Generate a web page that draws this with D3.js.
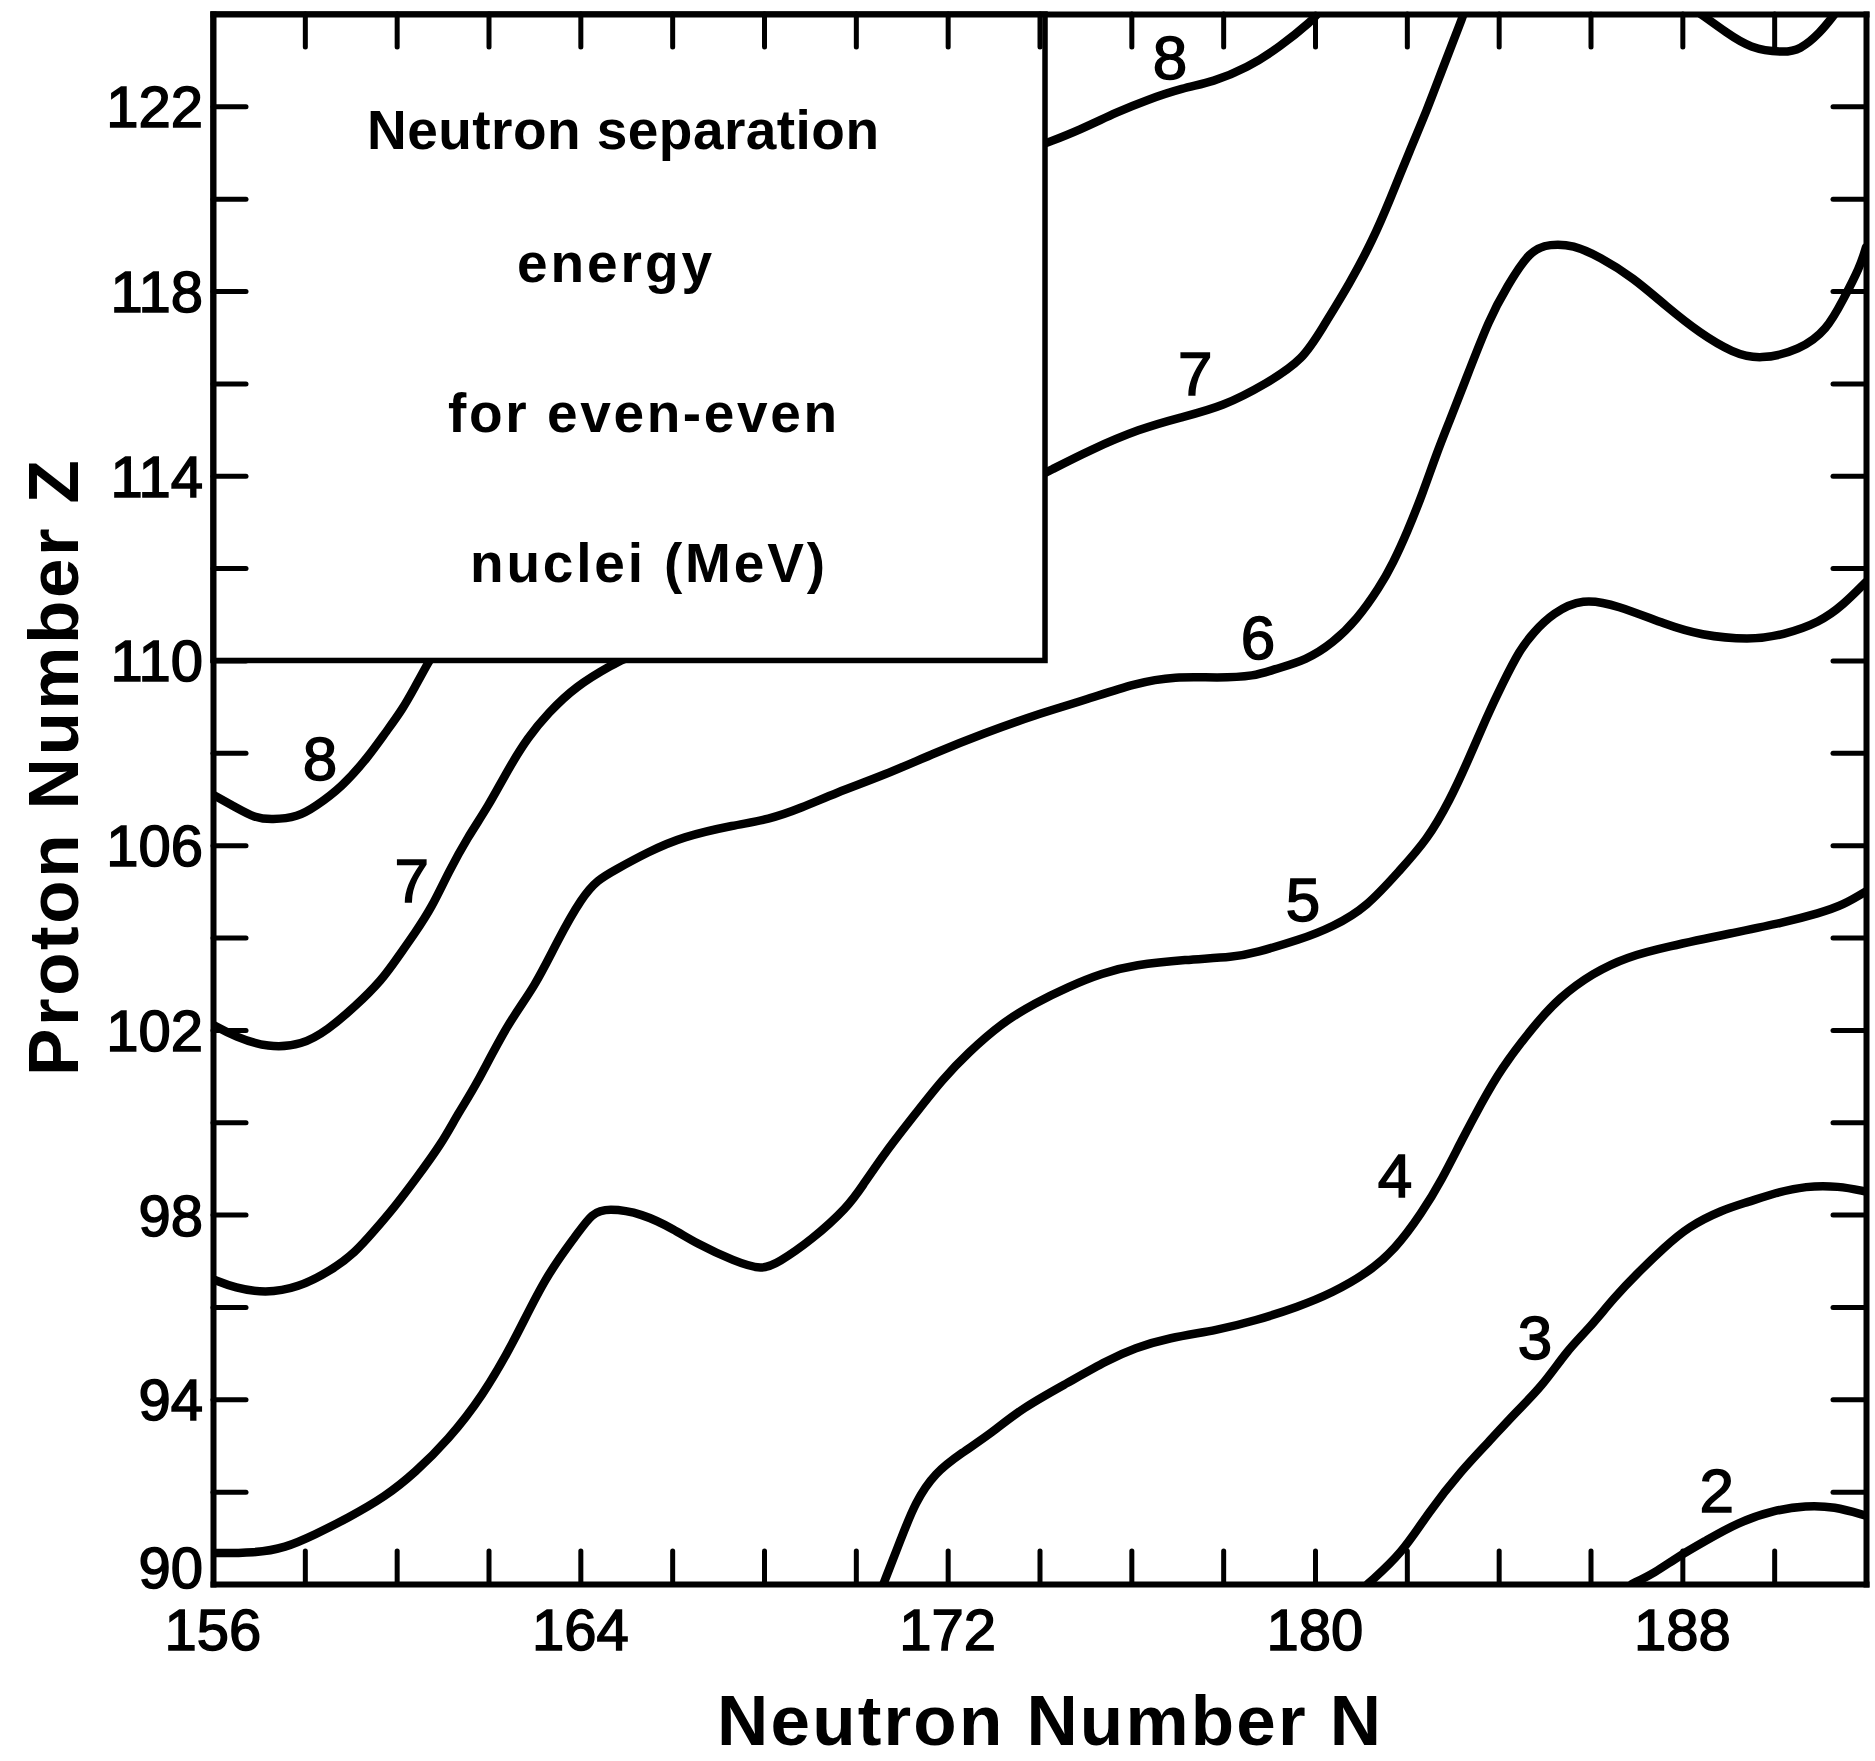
<!DOCTYPE html>
<html><head><meta charset="utf-8">
<script src="https://cdn.jsdelivr.net/npm/d3@7"></script>
<style>body{margin:0;background:#fff}</style>
</head><body>
<svg id="chart" width="1875" height="1761"></svg>
<script>
// ---- data ----
const xDomain = [156, 192];
const yDomain = [90, 124];
const xTickValues = d3.range(158, 192, 2);
const yTickValues = d3.range(92, 124, 2);
const xLabelValues = [156, 164, 172, 180, 188];
const yLabelValues = [90, 94, 98, 102, 106, 110, 114, 118, 122];

const contour2 = [[186.9,90],[187.4,90.24],[187.9,90.59],[188.5,90.93],[189.2,91.33],[190.0,91.6],[190.7,91.7],[191.3,91.68],[192,91.48]];
const contour3 = [[181.15,90],[181.9,90.67],[182.46,91.54],[183.2,92.47],[183.77,93.06],[184.35,93.7],[184.94,94.27],[185.5,95.07],[185.94,95.5],[186.53,96.22],[187.03,96.74],[187.62,97.3],[188.12,97.73],[188.86,98.1],[189.43,98.27],[190.02,98.47],[190.69,98.62],[191.4,98.62],[192,98.5]];
const contour4 = [[170.6,90],[171.0,91.02],[171.29,91.76],[171.72,92.41],[172.31,92.84],[172.96,93.27],[173.62,93.81],[174.62,94.36],[175.49,94.85],[176.08,95.11],[176.8,95.33],[177.89,95.5],[178.69,95.7],[179.63,96.0],[180.37,96.3],[181.15,96.74],[181.74,97.24],[182.33,98.04],[182.76,98.75],[183.2,99.62],[183.63,100.42],[184.03,101.13],[184.75,102.07],[185.33,102.71],[186.05,103.23],[186.79,103.58],[187.66,103.8],[189.1,104.1],[190.19,104.32],[190.99,104.53],[191.5,104.7],[192,105.0]];
const contour5 = [[156,90.67],[156.91,90.67],[157.57,90.78],[158.22,91.07],[158.94,91.43],[159.75,91.89],[160.4,92.41],[161.12,93.12],[161.86,94.05],[162.58,95.29],[163.23,96.65],[163.95,97.6],[164.25,98.03],[164.6,98.14],[165.34,98.03],[166.06,97.67],[166.5,97.39],[167.37,96.98],[167.96,96.8],[168.3,96.95],[169.04,97.45],[169.83,98.17],[170.13,98.6],[170.63,99.34],[171.35,100.25],[171.88,100.92],[172.44,101.5],[173.18,102.15],[173.9,102.58],[174.62,102.93],[175.36,103.23],[176.08,103.41],[177.17,103.52],[178.26,103.58],[178.69,103.67],[179.67,103.95],[180.39,104.23],[181.13,104.66],[181.85,105.46],[182.44,106.11],[182.94,106.98],[183.31,107.78],[183.74,108.78],[184.09,109.51],[184.46,110.23],[184.75,110.6],[185.18,111.03],[185.83,111.35],[186.57,111.2],[187.66,110.77],[188.38,110.55],[189.47,110.44],[190.19,110.55],[191.0,110.83],[191.5,111.2],[192,111.7]];
const contour6 = [[156,96.6],[156.48,96.41],[157.13,96.3],[157.85,96.41],[158.59,96.8],[159.09,97.17],[159.53,97.67],[159.96,98.17],[160.4,98.75],[160.99,99.55],[161.34,100.2],[161.71,100.76],[162.42,102.15],[163.01,102.93],[163.51,103.95],[164.04,104.88],[164.38,105.25],[164.75,105.46],[165.47,105.85],[166.21,106.18],[167.37,106.44],[168.09,106.55],[168.83,106.81],[169.55,107.13],[170.63,107.52],[171.72,108.0],[172.81,108.43],[173.9,108.82],[174.99,109.14],[176.08,109.51],[176.95,109.66],[177.89,109.62],[178.69,109.66],[179.08,109.8],[179.82,110.01],[180.39,110.38],[180.91,110.88],[181.41,111.59],[181.7,112.11],[182.0,112.76],[182.35,113.63],[182.65,114.49],[182.94,115.21],[183.22,115.92],[183.81,117.44],[184.18,118.09],[184.68,118.89],[185.12,119.02],[185.62,119.0],[186.2,118.74],[186.92,118.3],[187.66,117.66],[188.38,117.09],[189.1,116.66],[189.69,116.51],[190.56,116.72],[191.15,117.16],[191.5,117.81],[191.87,118.52],[192.0,118.95]];
const contour7Left = [[156,102.11],[156.48,101.85],[157.2,101.61],[157.94,101.67],[158.5,102.0],[159.09,102.5],[159.68,103.08],[160.03,103.58],[160.4,104.1],[160.77,104.66],[161.12,105.4],[161.55,106.18],[161.99,106.83],[162.42,107.63],[162.86,108.34],[163.3,108.86],[163.88,109.43],[164.75,109.94],[165.0,110.05]];
const contour7Upper = [[174.0,114.0],[174.16,114.08],[175.1,114.56],[176.19,115.02],[177.06,115.26],[178.0,115.5],[178.95,116.0],[179.74,116.51],[180.17,117.22],[180.76,118.17],[181.26,119.11],[181.63,119.97],[182.07,121.06],[182.44,121.92],[182.79,122.85],[183.22,123.94],[183.25,124.05]];
const contour8Left = [[156,107.09],[156.48,106.83],[156.91,106.59],[157.28,106.55],[157.85,106.61],[158.22,106.83],[158.81,107.26],[159.38,107.91],[159.75,108.43],[160.12,108.93],[160.4,109.43],[160.68,109.94],[160.75,110.05]];
const contour8Upper = [[174.0,121.15],[174.16,121.21],[174.88,121.49],[175.69,121.88],[176.34,122.14],[177.12,122.4],[177.78,122.53],[178.52,122.83],[179.24,123.29],[179.95,123.87],[180.05,124.0]];
const contour9 = [[188.4,124],[188.97,123.59],[189.47,123.26],[190.19,123.16],[190.56,123.22],[191.0,123.59],[191.32,124]];

const labelTexts = ["8","7","8","7","6","5","4","3","2"];
const labelN = [158.33,160.33,176.84,177.39,178.76,179.74,181.74,184.79,188.75];
const labelZ = [107.89,105.25,123.07,116.23,110.51,104.83,98.86,95.35,92.04];

const insetCorner = [174.12, 110];
const insetLines = ["Neutron separation", "energy", "for even-even", "nuclei (MeV)"];
const xTitle = "Neutron  Number  N";
const yTitle = "Proton  Number  Z";

// ---- drawing ----
const svg = d3.select("#chart");
svg.append("rect").attr("width",1875).attr("height",1761).attr("fill","#fff");

const x = d3.scaleLinear().domain(xDomain).range([213, 1866]);
const y = d3.scaleLinear().domain(yDomain).range([1584, 14]);

svg.append("clipPath").attr("id","plotclip").append("rect")
  .attr("x", x(156)).attr("y", y(124))
  .attr("width", x(192)-x(156)).attr("height", y(90)-y(124));

const line = d3.line().x(d=>x(d[0])).y(d=>y(d[1])).curve(d3.curveBasis);
const contours = [contour2, contour3, contour4, contour5, contour6, contour7Left, contour7Upper, contour8Left, contour8Upper, contour9];

const gc = svg.append("g").attr("clip-path","url(#plotclip)");
gc.selectAll("path").data(contours).join("path")
  .attr("d", line)
  .attr("fill","none").attr("stroke","#000").attr("stroke-width",8.5)
  .attr("stroke-linejoin","round").attr("stroke-linecap","round");

// inset box
svg.append("rect")
  .attr("x", x(156)).attr("y", y(124))
  .attr("width", x(insetCorner[0]) - x(156))
  .attr("height", y(insetCorner[1]) - y(124))
  .attr("fill","#fff").attr("stroke","#000").attr("stroke-width",5.5);

const insetX = [367, 517, 448, 470];
const insetW = [512, 195, 389, 355];
const insetBase = [149, 282, 432, 582];
svg.selectAll("text.inset").data(insetLines).join("text")
  .attr("class","inset")
  .attr("x",(d,i)=>insetX[i]).attr("y",(d,i)=>insetBase[i])
  .attr("textLength",(d,i)=>insetW[i]).attr("lengthAdjust","spacing")
  .attr("font-family","'Liberation Sans', Arial, sans-serif")
  .attr("font-weight","bold").attr("font-size",55)
  .attr("fill","#000").text(d=>d);

// axes (inward ticks)
function styleAxis(g){
  g.attr("color","#000");
  g.select(".domain").attr("stroke-width",6).attr("stroke-linecap","square");
  g.selectAll(".tick line").attr("stroke-width",5).attr("stroke-linecap","round");
}
svg.append("g").attr("transform",`translate(0,${y(90)})`)
  .call(d3.axisBottom(x).tickValues(xTickValues).tickSizeInner(-33).tickSizeOuter(0).tickFormat(""))
  .call(styleAxis);
svg.append("g").attr("transform",`translate(0,${y(124)})`)
  .call(d3.axisTop(x).tickValues(xTickValues).tickSizeInner(-33).tickSizeOuter(0).tickFormat(""))
  .call(styleAxis);
svg.append("g").attr("transform",`translate(${x(156)},0)`)
  .call(d3.axisLeft(y).tickValues(yTickValues).tickSizeInner(-33).tickSizeOuter(0).tickFormat(""))
  .call(styleAxis);
svg.append("g").attr("transform",`translate(${x(192)},0)`)
  .call(d3.axisRight(y).tickValues(yTickValues).tickSizeInner(-33).tickSizeOuter(0).tickFormat(""))
  .call(styleAxis);

// tick labels
const font = "'Liberation Sans', Arial, sans-serif";
svg.selectAll("text.xl").data(xLabelValues).join("text").attr("class","xl")
  .attr("x",d=>x(d)).attr("y",1650).attr("text-anchor","middle")
  .attr("font-family",font).attr("font-size",58).attr("fill","#000")
  .attr("stroke","#000").attr("stroke-width",1.5).text(d=>d);
svg.selectAll("text.yl").data(yLabelValues).join("text").attr("class","yl")
  .attr("x",203).attr("y",d=> d===90 ? y(d)+4 : y(d)+21).attr("text-anchor","end")
  .attr("font-family",font).attr("font-size",58).attr("fill","#000")
  .attr("stroke","#000").attr("stroke-width",1.5).text(d=>d);

// contour labels
svg.selectAll("text.cl").data(labelTexts).join("text").attr("class","cl")
  .attr("x",(d,i)=>x(labelN[i])).attr("y",(d,i)=>y(labelZ[i])+22)
  .attr("text-anchor","middle")
  .attr("font-family",font).attr("font-size",62).attr("fill","#000")
  .attr("stroke","#000").attr("stroke-width",1.5).text(d=>d);

// axis titles
svg.append("text").attr("x",1049).attr("y",1745).attr("text-anchor","middle")
  .attr("textLength",664).attr("lengthAdjust","spacing")
  .attr("font-family",font).attr("font-weight","bold").attr("font-size",71)
  .attr("fill","#000").text(xTitle);
svg.append("text").attr("transform","translate(78,768) rotate(-90)").attr("text-anchor","middle")
  .attr("textLength",616).attr("lengthAdjust","spacing")
  .attr("font-family",font).attr("font-weight","bold").attr("font-size",71)
  .attr("fill","#000").text(yTitle);
</script>
</body></html>
